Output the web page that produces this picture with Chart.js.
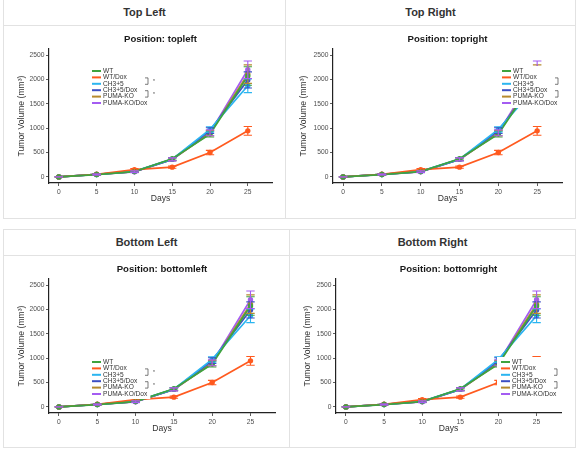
<!DOCTYPE html>
<html>
<head>
<meta charset="utf-8">
<script src="https://cdn.jsdelivr.net/npm/chart.js@4.4.0/dist/chart.umd.min.js"></script>
<style>
  body { margin: 0; background: #fff; font-family: "Liberation Sans", Arial, sans-serif; }
  .card { position: absolute; border: 1px solid #e2e2e2; box-sizing: border-box; background: #fff; }
  .card .hd { height: 26px; line-height: 25px; border-bottom: 1px solid #e2e2e2; box-sizing: border-box;
              text-align: center; font-weight: bold; font-size: 11px; color: #333; }
  .card canvas { display: block; }
</style>
</head>
<body>

<div class="card" style="left:3px;top:-1px;width:283px;height:220px;">
  <div class="hd">Top Left</div><canvas id="c_tl" width="281" height="192"></canvas>
</div>
<div class="card" style="left:285px;top:-1px;width:291px;height:220px;">
  <div class="hd">Top Right</div><canvas id="c_tr" width="289" height="192"></canvas>
</div>
<div class="card" style="left:3px;top:229px;width:287px;height:219px;">
  <div class="hd">Bottom Left</div><canvas id="c_bl" width="285" height="191"></canvas>
</div>
<div class="card" style="left:289px;top:229px;width:287px;height:219px;">
  <div class="hd">Bottom Right</div><canvas id="c_br" width="285" height="191"></canvas>
</div>

<script>
// data
const days = [0, 5, 10, 15, 20, 25];
const xTicks = [0, 5, 10, 15, 20, 25];
const yTicks = [0, 500, 1000, 1500, 2000, 2500];

const seriesNames = ['WT', 'WT/Dox', 'CH3+5', 'CH3+5/Dox', 'PUMA-KO', 'PUMA-KO/Dox'];
const seriesColors = ['#3fa33f', '#ff5a1f', '#2bb5f0', '#3d4fc4', '#b58a2e', '#a45cf2'];

const wtMean      = [0, 48, 110, 372, 880, 2070];
const wtErr       = [3, 8, 18, 25, 60, 190];
const wtDoxMean   = [0, 55, 150, 200, 500, 945];
const wtDoxErr    = [3, 8, 20, 22, 45, 90];
const ch35Mean    = [0, 50, 115, 365, 975, 1870];
const ch35Err     = [3, 8, 18, 28, 55, 140];
const ch35DoxMean = [0, 50, 110, 360, 950, 1990];
const ch35DoxErr  = [3, 8, 18, 28, 60, 165];
const pumaMean    = [0, 50, 110, 360, 900, 2110];
const pumaErr     = [3, 8, 18, 28, 55, 190];
const pumaDoxMean = [0, 50, 105, 360, 905, 2200];
const pumaDoxErr  = [3, 8, 18, 30, 60, 180];

const means = [wtMean, wtDoxMean, ch35Mean, ch35DoxMean, pumaMean, pumaDoxMean];
const errs = [wtErr, wtDoxErr, ch35Err, ch35DoxErr, pumaErr, pumaDoxErr];

// panels: canvas id, title, legend corner, y axis width, right padding
const panels = [
  { id: 'c_tl', title: 'Position: topleft',     pos: 'topleft',     yw: 45, rp: 13 },
  { id: 'c_tr', title: 'Position: topright',    pos: 'topright',    yw: 47, rp: 13 },
  { id: 'c_bl', title: 'Position: bottomleft',  pos: 'bottomleft',  yw: 45, rp: 14 },
  { id: 'c_br', title: 'Position: bottomright', pos: 'bottomright', yw: 46, rp: 14 }
];

const FONT = '"Liberation Sans", Arial, sans-serif';
Chart.defaults.font.family = FONT;

// title centred over the panel, like ggplot
const panelTitle = {
  id: 'panelTitle',
  afterDraw(chart, args, opts) {
    const { ctx, chartArea: a } = chart;
    ctx.save();
    ctx.font = 'bold 9.6px ' + FONT;
    ctx.fillStyle = '#1a1a1a';
    ctx.textAlign = 'center';
    ctx.textBaseline = 'middle';
    ctx.fillText(opts.text, (a.left + a.right) / 2, 13.5);
    ctx.restore();
  }
};

const errorBars = {
  id: 'errorBars',
  afterDatasetsDraw(chart) {
    const { ctx, chartArea: a, scales: { x, y } } = chart;
    ctx.save();
    ctx.beginPath();
    ctx.rect(a.left, a.top, a.right - a.left, a.bottom - a.top);
    ctx.clip();
    chart.data.datasets.forEach(d => {
      ctx.strokeStyle = d.borderColor;
      ctx.lineWidth = 1.1;
      d.data.forEach((p, i) => {
        const px = x.getPixelForValue(p.x);
        const hw = x.getPixelForValue(p.x + 0.55) - px;
        const lo = y.getPixelForValue(p.y - d.err[i]);
        const hi = y.getPixelForValue(p.y + d.err[i]);
        ctx.beginPath();
        ctx.moveTo(px, lo); ctx.lineTo(px, hi);
        ctx.moveTo(px - hw, lo); ctx.lineTo(px + hw, lo);
        ctx.moveTo(px - hw, hi); ctx.lineTo(px + hw, hi);
        ctx.stroke();
      });
    });
    ctx.restore();
  }
};

// legend inside the plot with a white key box and significance brackets
const insideLegend = {
  id: 'insideLegend',
  afterDraw(chart, args, opts) {
    const { ctx, chartArea: a } = chart;
    const left = opts.pos.endsWith('left');
    const x0 = left ? a.left + 43 : a.right - 60;
    const y0 = opts.pos.startsWith('top') ? a.top + 22 : a.bottom - 51;
    const step = 6.4;
    ctx.save();
    ctx.font = '6.6px ' + FONT;
    const dsets = chart.data.datasets;
    const w = Math.max(...dsets.map(d => ctx.measureText(d.label).width));
    ctx.fillStyle = '#fff';
    ctx.fillRect(x0 - 4, y0 - 5, w + 18, step * (dsets.length - 1) + 10);
    ctx.textBaseline = 'middle';
    dsets.forEach((d, i) => {
      const y = y0 + i * step;
      ctx.strokeStyle = d.borderColor;
      ctx.lineWidth = 2;
      ctx.beginPath(); ctx.moveTo(x0, y); ctx.lineTo(x0 + 9, y); ctx.stroke();
      ctx.fillStyle = '#333';
      ctx.fillText(d.label, x0 + 11, y);
    });
    const bx = x0 + 53;
    [[1, 2], [3, 4]].forEach(([r1, r2]) => {
      const ya = y0 + r1 * step + 0.5, yb = y0 + r2 * step + 0.5;
      ctx.strokeStyle = '#444';
      ctx.lineWidth = 0.7;
      ctx.beginPath();
      ctx.moveTo(bx, ya); ctx.lineTo(bx + 3, ya); ctx.lineTo(bx + 3, yb); ctx.lineTo(bx, yb);
      ctx.stroke();
      if (left) {
        ctx.fillStyle = '#444';
        ctx.font = '5px ' + FONT;
        ctx.fillText('*', bx + 8, (ya + yb) / 2 + 1);
        ctx.font = '6.6px ' + FONT;
      }
    });
    ctx.restore();
  }
};

panels.forEach(pn => {
  const canvas = document.getElementById(pn.id);
  const datasets = seriesNames.map((name, k) => ({
    label: name,
    data: days.map((d, i) => ({ x: d, y: means[k][i] })),
    err: errs[k],
    borderColor: seriesColors[k],
    backgroundColor: seriesColors[k],
    pointBackgroundColor: seriesColors[k],
    pointBorderWidth: 0,
    pointRadius: 2.7,
    borderWidth: 1.7,
    tension: 0
  }));

  new Chart(canvas, {
    type: 'line',
    data: { datasets },
    plugins: [errorBars, panelTitle, insideLegend],
    options: {
      responsive: false,
      animation: false,
      layout: { padding: { top: 23, right: pn.rp, bottom: canvas.height - 183, left: 0 } },
      plugins: {
        legend: { display: false },
        tooltip: { enabled: false },
        panelTitle: { text: pn.title },
        insideLegend: { pos: pn.pos }
      },
      scales: {
        x: {
          type: 'linear',
          min: -1.3,
          max: 28.2,
          afterBuildTicks: s => { s.ticks = xTicks.map(v => ({ value: v })); },
          afterFit: s => { s.height = 26; },
          ticks: { color: '#4d4d4d', font: { size: 6.7 }, padding: 2, callback: v => v },
          grid: { drawOnChartArea: false, tickLength: 3, tickColor: '#333', tickWidth: 0.8 },
          border: { color: '#222', width: 1.2 },
          title: { display: true, text: 'Days', color: '#333', font: { size: 8.6 }, padding: { top: 0, bottom: 4.9 } }
        },
        y: {
          min: -125,
          max: 2625,
          afterBuildTicks: s => { s.ticks = yTicks.map(v => ({ value: v })); },
          afterFit: s => { s.width = pn.yw; },
          ticks: { color: '#4d4d4d', font: { size: 6.7 }, padding: 1.5, callback: v => v },
          grid: { drawOnChartArea: false, tickLength: 3, tickColor: '#333', tickWidth: 0.8 },
          border: { color: '#222', width: 1.2 },
          title: { display: true, text: 'Tumor Volume (mm³)', color: '#333', font: { size: 8.6 }, padding: { top: 12.9, bottom: 0 } }
        }
      }
    }
  });
});
</script>
</body>
</html>
